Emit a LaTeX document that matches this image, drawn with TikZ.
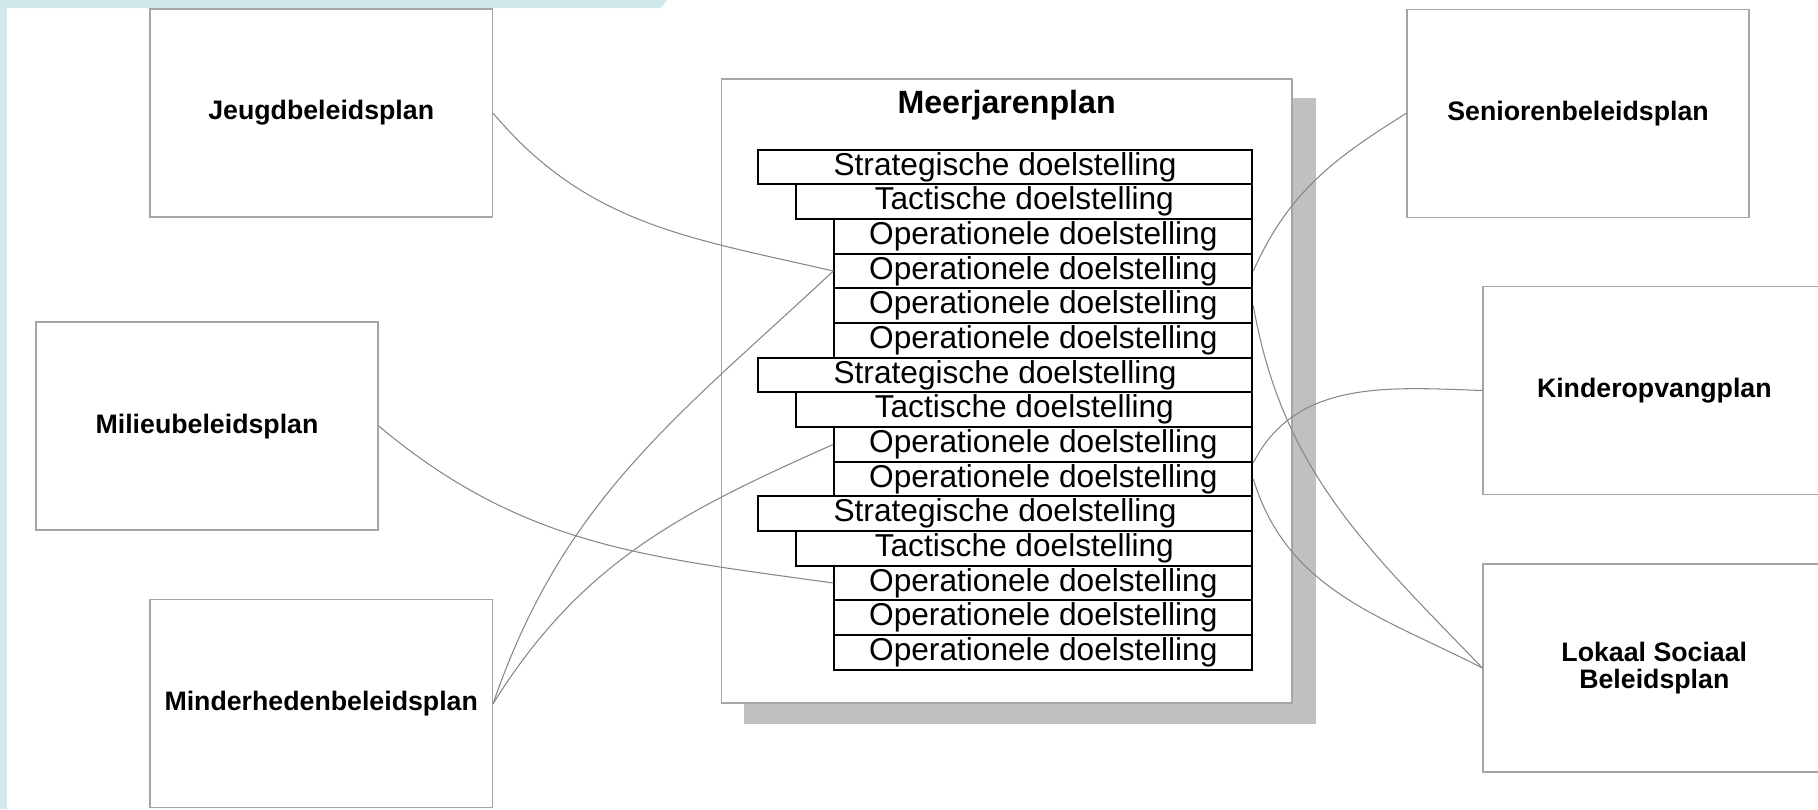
\documentclass[tikz,border=0pt]{standalone}
\usepackage{fontspec}
\setmainfont{Liberation Sans}
\pgfdeclarelayer{background}
\pgfsetlayers{background,main}
\definecolor{stripblue}{RGB}{210,233,236}
\definecolor{framegray}{RGB}{165,165,165}
\definecolor{linkgray}{RGB}{135,135,135}
\definecolor{shadowgray}{RGB}{192,192,192}
\def\leftplans{{(321.2,113.1)/jeugd/Jeugdbeleidsplan}, {(207,426.1)/milieu/Milieubeleidsplan}, {(321.2,703.6)/minder/Minderhedenbeleidsplan}}
\def\rightplans{{(1578,113.4)/senior/Seniorenbeleidsplan}, {(1654.3,390.5)/kinder/Kinderopvangplan}, {(1654.3,668)/lokaal/Lokaal Sociaal\\Beleidsplan}}
\def\goallist{strat/Strategische, tact/Tactische, oper/Operationele, oper/Operationele, oper/Operationele, oper/Operationele, strat/Strategische, tact/Tactische, oper/Operationele, oper/Operationele, strat/Strategische, tact/Tactische, oper/Operationele, oper/Operationele, oper/Operationele}
\def\leftcon{jeugd/r4/-50/167, minder/r4/71/223, minder/r9/58/204, milieu/r13/-40/172}
\def\rightcon{r4.east/senior/66/212, r5.east/lokaal/-80/134, r9.south east/kinder/63/178, r10.east/lokaal/-73/153}
\tikzstyle{plan}=[draw=framegray,line width=0.45pt,fill=white,minimum width=3.42cm,minimum height=2.08cm,align=center,font=\fontsize{7.6}{7.8}\selectfont\bfseries]
\tikzstyle{bigplan}=[draw=framegray,line width=0.45pt,fill=white,minimum width=5.70cm,minimum height=6.237cm]
\tikzstyle{heading}=[font=\fontsize{9.15}{11}\selectfont\bfseries]
\tikzstyle{goalrow}=[draw=black,line width=0.6pt,fill=white,minimum height=0.3467cm,inner sep=0pt,anchor=north east,font=\fontsize{9}{10}\selectfont]
\tikzstyle{strat}=[goalrow,minimum width=4.94cm]
\tikzstyle{tact}=[goalrow,minimum width=4.556cm]
\tikzstyle{oper}=[goalrow,minimum width=4.176cm]
\tikzstyle{link}=[draw=linkgray,line width=0.3pt]
\begin{document}
\begin{tikzpicture}[x=0.01cm,y=-0.01cm]
  \useasboundingbox (0,0) rectangle (1818,809);
  \clip (0,0) rectangle (1818,809);

  % First we draw the big plan with its goals
  \node[bigplan] (plan) at (1006.6,390.9) {};
  \node[heading] (title) at (1006.6,105) {Meerjarenplan};
  \foreach \kind/\word [count=\i] in \goallist
    \node[\kind] (r\i) at (1253.3,{148.6+(\i-1)*34.67}) {\word{} doelstelling};

  % Then the other plans
  \foreach \pos/\name/\txt in \leftplans
    \node[plan] (\name) at \pos {\txt};
  \foreach \pos/\name/\txt in \rightplans
    \node[plan] (\name) at \pos {\txt};

  % Connect plans with goals
  \foreach \source/\dest/\a/\b in \leftcon
    \path[link] (\source.east) to[out=\a, in=\b] (\dest.west);
  \foreach \source/\dest/\a/\b in \rightcon
    \path[link] (\source) to[out=\a, in=\b] (\dest.west);

  % Make the background
  \begin{pgfonlayer}{background}
    \fill[stripblue] (0,0) -- (667,0) -- (661,8) -- (7,8) -- (7,809) -- (0,809) -- cycle;
    \fill[shadowgray] ([shift={(23,20)}]plan.north west) rectangle ([shift={(23,20)}]plan.south east);
  \end{pgfonlayer}
\end{tikzpicture}
\end{document}
